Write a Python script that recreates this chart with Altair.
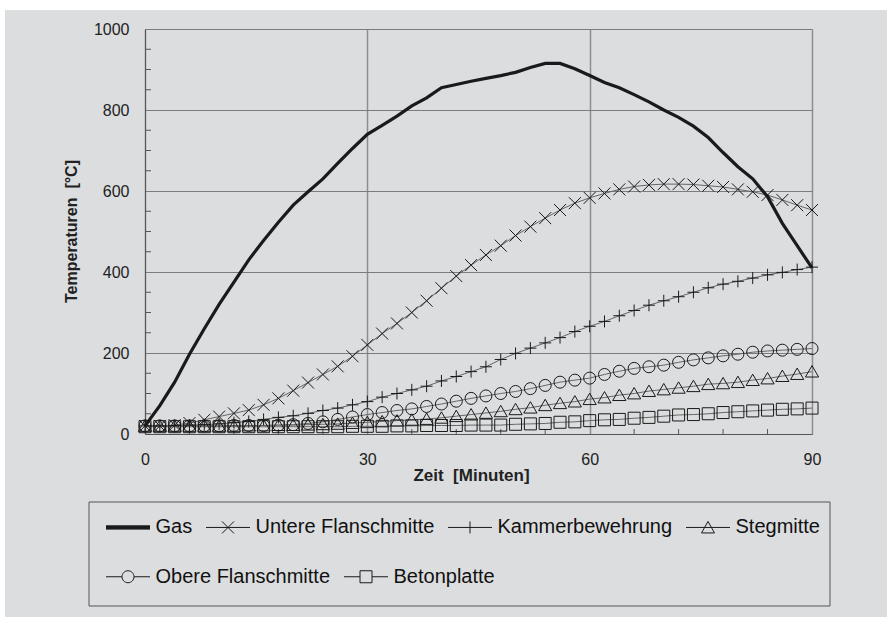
import altair as alt
import pandas as pd

# Temperature development over 90 minutes of fire exposure
minutes = [0, 2, 4, 6, 8, 10, 12, 14, 16, 18, 20, 22, 24, 26, 28, 30,
           32, 34, 36, 38, 40, 42, 44, 46, 48, 50, 52, 54, 56, 58, 60,
           62, 64, 66, 68, 70, 72, 74, 76, 78, 80, 82, 84, 86, 88, 90]

gas = [20, 70, 128, 197, 260, 320, 375, 430, 478, 523, 565, 598, 630, 668, 705, 740,
       762, 785, 810, 830, 855, 863, 871, 878, 885, 893, 905, 915, 915, 902, 885,
       868, 855, 838, 820, 800, 782, 760, 732, 695, 660, 630, 586, 520, 465, 410]
untere = [20, 20, 22, 27, 35, 43, 51, 59, 72, 88, 107, 127, 147, 167, 192, 220,
          248, 273, 300, 329, 360, 390, 417, 442, 465, 490, 512, 533, 553, 570, 583,
          594, 604, 611, 615, 617, 617, 616, 613, 610, 604, 598, 590, 578, 565, 553]
kammer = [20, 20, 21, 22, 23, 25, 28, 31, 36, 41, 45, 51, 58, 64, 72, 80,
          91, 100, 109, 118, 131, 142, 154, 166, 184, 199, 212, 225, 238, 253, 266,
          278, 292, 305, 318, 329, 339, 350, 361, 370, 377, 385, 393, 399, 406, 412]
steg = [20, 20, 20, 20, 20, 20, 20, 21, 21, 22, 22, 23, 24, 25, 27, 29,
        31, 33, 35, 37, 40, 44, 48, 52, 56, 61, 65, 71, 76, 80, 86,
        90, 96, 100, 106, 110, 114, 118, 123, 125, 128, 133, 137, 143, 148, 154]
obere = [20, 20, 20, 20, 20, 20, 21, 21, 21, 22, 23, 26, 30, 36, 42, 48,
         53, 58, 62, 68, 74, 81, 88, 94, 100, 105, 112, 120, 128, 133, 138,
         147, 155, 162, 166, 170, 177, 183, 188, 193, 197, 202, 205, 207, 209, 211]
beton = [18, 18, 18, 18, 18, 18, 18, 18, 18, 18, 18, 18, 18, 18, 19, 19,
         19, 20, 20, 21, 21, 21, 22, 22, 22, 24, 25, 26, 29, 30, 33,
         35, 36, 39, 41, 44, 47, 48, 50, 53, 55, 57, 59, 61, 62, 64]

series_names = ["Gas", "Untere Flanschmitte", "Kammerbewehrung", "Stegmitte",
                "Obere Flanschmitte", "Betonplatte"]
series_values = [gas, untere, kammer, steg, obere, beton]
legend_row1 = series_names[:4]
legend_row2 = series_names[4:]

x_labels = [0, 30, 60, 90]
y_labels = [0, 200, 400, 600, 800, 1000]
x_minor = [6, 12, 18, 24, 36, 42, 48, 54, 66, 72, 78, 84]
y_minor = [50, 100, 150, 250, 300, 350, 450, 500, 550, 650, 700, 750, 850, 900, 950]

df = pd.concat(
    [pd.DataFrame({"Zeit": minutes, "Temperatur": vals, "Reihe": name})
     for name, vals in zip(series_names, series_values)],
    ignore_index=True,
)

FONT = "Liberation Sans"
INK = "#1a1a1a"
NBSP = "\u00a0"

# marker symbols in the plot (unit paths)
marker_paths = [
    "M-1,-1L1,1M-1,1L1,-1",                 # x
    "M-1,0L1,0M0,-1L0,1",                   # +
    "M0,-1L1.1,0.9L-1.1,0.9Z",              # triangle
    "circle",
    "square",
]
# legend symbols: short line with the marker in its middle
gas_bar = "".join(f"M-1,{d}L3.4,{d}" for d in
                  ("-0.16", "-0.12", "-0.08", "-0.04", "0", "0.04", "0.08", "0.12", "0.16"))
legend_paths = {
    "Gas": gas_bar,
    "Untere Flanschmitte": "M-1,0L3.4,0M0.6,-0.6L1.8,0.6M0.6,0.6L1.8,-0.6",
    "Kammerbewehrung": "M-1,0L3.4,0M1.2,-0.6L1.2,0.6",
    "Stegmitte": "M-1,0L3.4,0M1.2,-0.6L1.85,0.55L0.55,0.55Z",
    "Obere Flanschmitte": "M-1,0L0.6,0M1.8,0L3.4,0M1.8,0A0.6,0.6 0 1,1 0.6,0A0.6,0.6 0 1,1 1.8,0Z",
    "Betonplatte": "M-1,0L0.6,0M1.8,0L3.4,0M0.6,-0.6L1.8,-0.6L1.8,0.6L0.6,0.6Z",
}

x_scale = alt.Scale(domain=[0, 90], nice=False, zero=False)
y_scale = alt.Scale(domain=[0, 1000], nice=False)

x_axis = alt.Axis(
    values=x_labels, title=f"Zeit {NBSP}[Minuten]", grid=True, gridColor="#8e8e8e",
    gridWidth=1.5, ticks=False, domainColor="#555555", domainWidth=1,
    labelFlush=False, labelOverlap=False, labelFont=FONT, labelFontSize=16,
    labelColor="#222222", labelPadding=17, titleFont=FONT, titleFontSize=17,
    titleFontWeight="bold", titleColor="#222222", titleX=326, titleY=41,
    titleBaseline="middle", titleAlign="center",
)
y_axis = alt.Axis(
    values=y_labels, format="d", title=f"Temperaturen {NBSP}[°C]", grid=True,
    gridColor="#7c7c7c", gridWidth=1, ticks=False, domainColor="#555555",
    domainWidth=1, labelFlush=False, labelOverlap=False, labelFont=FONT,
    labelFontSize=16, labelColor="#222222", labelPadding=16, titleFont=FONT,
    titleFontSize=16, titleFontWeight="bold", titleColor="#222222", titleX=-74,
    titleY=202, titleBaseline="middle", titleAlign="center", titleAngle=270,
)

base = alt.Chart(df).encode(
    x=alt.X("Zeit:Q", scale=x_scale, axis=x_axis),
    y=alt.Y("Temperatur:Q", scale=y_scale, axis=y_axis),
)

# white strips along the top and left edge of the page
one = alt.Data(values=[{"k": 1}])
strip_top = alt.Chart(one).mark_rect(color="white").encode(
    x=alt.value(-145), x2=alt.value(742), y=alt.value(-29), y2=alt.value(-19))
strip_left = alt.Chart(one).mark_rect(color="white").encode(
    x=alt.value(-145), x2=alt.value(-140), y=alt.value(-29), y2=alt.value(588))

# frame around the two legend rows
legend_frame = alt.Chart(one).mark_rect(
    fill="transparent", stroke="#555555", strokeWidth=1).encode(
    x=alt.value(-56), x2=alt.value(685), y=alt.value(473), y2=alt.value(577))

# inward minor ticks
y_ticks = alt.Chart(pd.DataFrame({"Temperatur": y_minor})).mark_rule(
    color="#555555", strokeWidth=1).encode(
    y=alt.Y("Temperatur:Q", scale=y_scale), x=alt.value(0), x2=alt.value(6))
x_ticks = alt.Chart(pd.DataFrame({"Zeit": x_minor})).mark_rule(
    color="#555555", strokeWidth=1).encode(
    x=alt.X("Zeit:Q", scale=x_scale), y=alt.value(400), y2=alt.value(405))

other_lines = base.transform_filter(alt.datum.Reihe != "Gas").mark_line(
    color="#666666", strokeWidth=1).encode(detail="Reihe:N")

points = base.transform_filter(alt.datum.Reihe != "Gas").mark_point(
    filled=False, stroke=INK, strokeWidth=1, size=144, opacity=1).encode(
    shape=alt.Shape("Reihe:N", scale=alt.Scale(domain=series_names[1:], range=marker_paths),
                    legend=None))

gas_line = base.transform_filter(alt.datum.Reihe == "Gas").mark_line(
    color=INK, strokeWidth=3.2)


def legend_row(names, legend_y):
    """One horizontal row of legend entries, drawn by an invisible point layer."""
    return alt.Chart(pd.DataFrame({"Reihe": names})).mark_point(
        filled=False, stroke=INK, strokeWidth=1, opacity=0).encode(
        shape=alt.Shape(
            "Reihe:N",
            scale=alt.Scale(domain=names, range=[legend_paths[n] for n in names]),
            legend=alt.Legend(
                title=None, orient="none", legendX=-39.5, legendY=legend_y,
                direction="horizontal", columns=len(names),
                symbolSize=400, symbolStrokeWidth=1, symbolStrokeColor=INK,
                symbolFillColor="transparent", symbolOpacity=1,
                labelFont=FONT, labelFontSize=20, labelColor="#111111",
                labelLimit=400, labelOffset=29, columnPadding=11, padding=0,
            ),
        )
    )


legend1 = legend_row(legend_row1, 487.7)
legend2 = legend_row(legend_row2, 537)

chart = alt.layer(
    strip_top, strip_left, legend_frame, y_ticks, x_ticks,
    other_lines, points, gas_line, legend1, legend2,
).resolve_scale(shape="independent").properties(
    width=667, height=405,
    padding={"left": 145, "top": 29, "right": 75, "bottom": 183},
    autosize=alt.AutoSizeParams(type="none"),
    background="#dcdddf",
).configure_view(stroke=None)

chart.save("out.html", embed_options={"renderer": "svg", "actions": False})
